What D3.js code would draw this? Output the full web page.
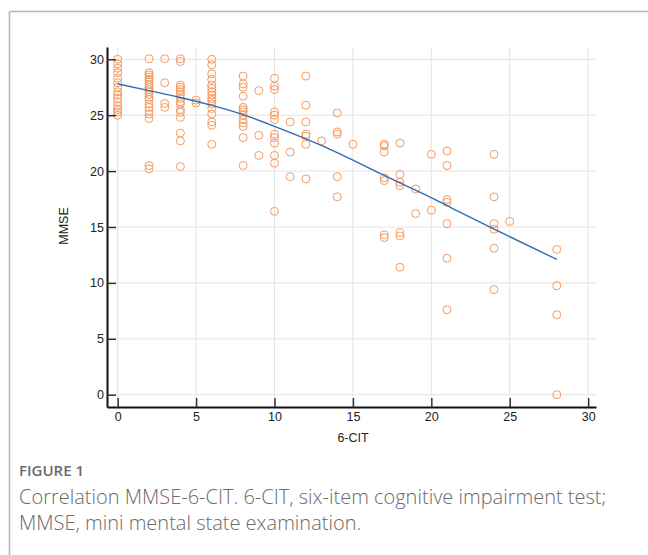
<!DOCTYPE html>
<html>
<head>
<meta charset="utf-8">
<script src="https://cdn.jsdelivr.net/npm/d3@7/dist/d3.min.js"></script>
<style>
  html, body { margin: 0; padding: 0; background: #fff; }
  svg { display: block; }
</style>
</head>
<body>
<svg id="chart" width="648" height="555"></svg>
<script>
// ---- data ----
const citScores = [0, 2, 3, 4, 5, 6, 8, 9, 10, 11, 12, 13, 14, 15, 17, 18, 19, 20, 21, 24, 25, 28];
const mmseGroups = [
  [30, 29.6, 29.2, 28.8, 28.3, 27.9, 27.5, 27.1, 26.8, 26.5, 26.2, 25.8, 25.5, 25.3, 25.0],
  [30.05, 28.8, 28.6, 28.4, 28.2, 28.0, 27.75, 27.5, 27.3, 27.1, 26.85, 26.6, 26.4, 26.0, 25.7, 25.4, 25.1, 24.7, 20.5, 20.2],
  [30.05, 27.9, 26.05, 25.7],
  [30.05, 29.8, 27.7, 27.5, 27.3, 27.1, 26.85, 26.5, 26.2, 26.0, 25.5, 25.25, 24.8, 23.4, 22.7, 20.4],
  [26.35, 26.1],
  [30.0, 29.5, 28.7, 28.2, 27.7, 27.4, 27.1, 26.8, 26.5, 26.3, 26.0, 25.6, 25.1, 24.4, 24.1, 22.4],
  [28.5, 27.8, 27.5, 26.7, 25.7, 25.5, 25.3, 25.0, 24.6, 24.3, 24.0, 23.0, 20.5],
  [27.2, 23.2, 21.4],
  [28.3, 27.6, 27.3, 25.3, 25.0, 24.6, 23.3, 23.0, 22.5, 21.4, 20.7, 16.4],
  [24.4, 21.7, 19.5],
  [28.5, 25.9, 24.4, 23.3, 23.1, 22.4, 19.3],
  [22.7],
  [25.2, 23.5, 23.3, 19.5, 17.7],
  [22.4],
  [22.4, 22.25, 21.7, 19.4, 19.15, 14.3, 14.05],
  [22.5, 19.7, 19.0, 18.7, 14.5, 14.2, 11.4],
  [18.4, 16.2],
  [21.5, 16.5],
  [21.8, 20.5, 17.45, 17.2, 15.3, 12.2, 7.6],
  [21.5, 17.7, 15.3, 14.8, 13.1, 9.4],
  [15.5],
  [13.0, 9.75, 7.15, 0.0]
];
// fitted (smoothed) curve
const fitX = [0, 2, 4, 6, 8, 10, 12, 14, 17, 18, 20, 21, 24, 28];
const fitY = [27.8, 27.2, 26.6, 25.9, 25.1, 24.0, 22.9, 21.7, 19.6, 18.95, 17.65, 16.9, 14.8, 12.1];
const xTicks = [0, 5, 10, 15, 20, 25, 30];
const yTicks = [0, 5, 10, 15, 20, 25, 30];
const xLabel = "6-CIT";
const yLabel = "MMSE";
const figLabel = "FIGURE 1";
const captionLines = [
  "Correlation MMSE-6-CIT. 6-CIT, six-item cognitive impairment test;",
  "MMSE, mini mental state examination."
];

// ---- build points ----
const points = [];
citScores.forEach((c, i) => mmseGroups[i].forEach(m => points.push({ x: c, y: m })));

const svg = d3.select("#chart");
const axisFont = "Liberation Sans, Arial, sans-serif";

// card frame (top and left border)
svg.append("line").attr("x1", 9.5).attr("x2", 648).attr("y1", 11.5).attr("y2", 11.5)
  .attr("stroke", "#b5b5b5").attr("stroke-width", 1.5);
svg.append("line").attr("x1", 9.5).attr("x2", 9.5).attr("y1", 11.5).attr("y2", 555)
  .attr("stroke", "#b5b5b5").attr("stroke-width", 1.5);

const x = d3.scaleLinear().domain([-0.68, 30.5]).range([107, 596]);
const y = d3.scaleLinear().domain([-1.1, 31.1]).range([407, 47]);

const g = svg.append("g");

// grid
g.append("g").selectAll("line").data(xTicks).join("line")
  .attr("x1", d => x(d)).attr("x2", d => x(d))
  .attr("y1", y.range()[0]).attr("y2", y.range()[1])
  .attr("stroke", "#e4e4e4").attr("stroke-width", 1);
g.append("g").selectAll("line").data(yTicks).join("line")
  .attr("y1", d => y(d)).attr("y2", d => y(d))
  .attr("x1", x.range()[0]).attr("x2", x.range()[1])
  .attr("stroke", "#e4e4e4").attr("stroke-width", 1);

// points
g.append("g").selectAll("circle").data(points).join("circle")
  .attr("cx", d => x(d.x)).attr("cy", d => y(d.y)).attr("r", 4)
  .attr("fill", "none").attr("stroke", "#f7995c").attr("stroke-width", 1);

// fit line
const line = d3.line().x(d => x(d[0])).y(d => y(d[1])).curve(d3.curveBasis);
g.append("path").datum(fitX.map((v, i) => [v, fitY[i]]))
  .attr("d", line).attr("fill", "none").attr("stroke", "#2f6cb3").attr("stroke-width", 1.4);

// axes
const xAxis = d3.axisBottom(x).tickValues(xTicks).tickSizeInner(-9).tickSizeOuter(0).tickPadding(5);
const yAxis = d3.axisLeft(y).tickValues(yTicks).tickSizeInner(-9).tickSizeOuter(0).tickPadding(3);

const gx = g.append("g").attr("transform", `translate(0,${y.range()[0]})`).call(xAxis);
const gy = g.append("g").attr("transform", `translate(${x.range()[0]},0)`).call(yAxis);
[gx, gy].forEach(a => {
  a.select(".domain").attr("stroke", "#111").attr("stroke-width", 2);
  a.selectAll(".tick line").attr("stroke", "#333").attr("stroke-width", 1.5);
  a.selectAll(".tick text").attr("fill", "#222").attr("font-size", 12.5)
    .attr("font-family", axisFont);
});

// axis titles
svg.append("text").attr("x", 353).attr("y", 442).attr("text-anchor", "middle")
  .attr("font-family", axisFont).attr("font-size", 12.5).attr("fill", "#222")
  .text(xLabel);
svg.append("text").attr("transform", "translate(68,226) rotate(-90)").attr("text-anchor", "middle")
  .attr("font-family", axisFont).attr("font-size", 12.5).attr("fill", "#222")
  .text(yLabel);

// caption
svg.append("text").attr("x", 19).attr("y", 476)
  .attr("font-family", "Open Sans, sans-serif").attr("font-size", 15).attr("font-weight", 600)
  .attr("fill", "#6a6a6a").text(figLabel);
svg.append("g").selectAll("text").data(captionLines).join("text")
  .attr("x", 19).attr("y", (d, i) => 504 + i * 26)
  .attr("font-family", "Open Sans, sans-serif").attr("font-size", 20).attr("font-weight", 300)
  .attr("fill", "#6a6a6a").text(d => d);
</script>
</body>
</html>
